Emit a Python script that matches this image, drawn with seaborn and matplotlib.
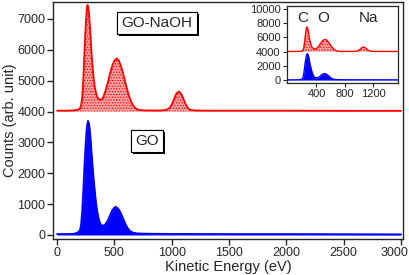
import numpy as np
import pandas as pd
import matplotlib
matplotlib.use("Agg")
import matplotlib.pyplot as plt
import matplotlib.patheffects as pe
import matplotlib.transforms as mtransforms
import seaborn as sns

# === DATA ===
energy_naoh = [0, 100, 150, 180, 200, 210, 220, 230, 240, 250, 260, 265, 270, 280, 290,
               300, 310, 320, 330, 340, 350, 360, 370, 380, 390, 400, 420, 440, 460,
               480, 500, 520, 540, 560, 580, 600, 620, 640, 660, 680, 700, 740, 800,
               900, 950, 980, 1000, 1020, 1040, 1060, 1080, 1100, 1120, 1140, 1160,
               1200, 1300, 1500, 2000, 2500, 3000]
counts_naoh = [30, 30, 40, 60, 100, 200, 450, 1100, 2000, 2800, 3350, 3450, 3420, 3150, 2600,
               1950, 1450, 1050, 780, 600, 480, 420, 390, 385, 395, 440, 640, 900, 1200,
               1470, 1650, 1720, 1650, 1450, 1180, 880, 600, 380, 220, 120, 70, 40, 35,
               35, 50, 110, 220, 400, 580, 650, 590, 430, 250, 120, 60,
               35, 30, 30, 30, 25, 25]

energy_go = [0, 100, 150, 180, 200, 210, 220, 230, 240, 250, 260, 270, 280, 290, 300,
             310, 320, 330, 340, 350, 360, 370, 380, 390, 400, 420, 440, 460, 480,
             500, 510, 520, 540, 560, 580, 600, 620, 640, 660, 700, 800, 1000, 1500,
             2000, 2500, 3000]
counts_go = [30, 30, 40, 80, 150, 350, 800, 1500, 2300, 3000, 3500, 3700, 3600, 3250, 2750,
             2250, 1800, 1400, 1050, 780, 580, 440, 350, 310, 300, 340, 450, 620, 790,
             890, 910, 900, 820, 680, 500, 330, 200, 120, 80, 50, 40, 35, 30,
             30, 25, 20]

naoh_offset = 4000

df_naoh = pd.DataFrame({"energy": energy_naoh, "counts": np.array(counts_naoh) + naoh_offset})
df_go = pd.DataFrame({"energy": energy_go, "counts": counts_go})

# === STYLE ===
sns.set_style("ticks")
plt.rcParams['font.family'] = ['Liberation Sans', 'DejaVu Sans']
plt.rcParams['hatch.linewidth'] = 0.6

fig = plt.figure(figsize=(4.09, 2.75), dpi=100)
ax = fig.add_axes([0.1296, 0.1309, 0.8557, 0.8618])


def draw(a, lw=1.3):
    a.fill_between(df_naoh["energy"], naoh_offset, df_naoh["counts"],
                   facecolor="#f8a4a4", edgecolor="red", hatch="......", linewidth=0)
    sns.lineplot(data=df_naoh, x="energy", y="counts", color="red", lw=lw, ax=a)
    a.fill_between(df_go["energy"], 0, df_go["counts"], color="blue", linewidth=0)
    sns.lineplot(data=df_go, x="energy", y="counts", color="blue", lw=lw, ax=a)


draw(ax)
ax.set_xlim(-35, 3017)
ax.set_ylim(-130, 7550)
ax.set_xticks(range(0, 3001, 500))
ax.set_yticks(range(0, 7001, 1000))
ax.tick_params(labelsize=9, length=4, width=1, direction="out", pad=1.5)
ax.set_xlabel("Kinetic Energy (eV)", fontsize=10.5, labelpad=1)
ax.set_ylabel("Counts (arb. unit)", fontsize=10.5)
ax.yaxis.set_label_coords(-0.104, 0.5)
for s in ax.spines.values():
    s.set_linewidth(1)

# keep the last x tick label inside the figure
fig.canvas.draw()
last = ax.get_xticklabels()[-1]
last.set_transform(last.get_transform() +
                   mtransforms.ScaledTranslation(-7 / 100, 0, fig.dpi_scale_trans))

# boxed labels with drop shadow
for txt, pos in [("GO-NaOH", (0.297, 0.911)), ("GO", (0.269, 0.414))]:
    t = ax.text(*pos, txt, transform=ax.transAxes, fontsize=11, ha="center", va="center",
                bbox=dict(boxstyle="square,pad=0.28", fc="white", ec="black", lw=0.8))
    t.get_bbox_patch().set_path_effects(
        [pe.withSimplePatchShadow(offset=(1.5, -1.5), shadow_rgbFace="black", alpha=1),
         pe.Normal()])

# === INSET ===
ins = fig.add_axes([0.7017, 0.698, 0.2714, 0.28])
draw(ins, lw=1.0)
ins.set_xlim(-14, 1545)
ins.set_ylim(-420, 10420)
ins.set_xticks([400, 800, 1200])
ins.set_yticks(range(0, 10001, 2000))
ins.tick_params(labelsize=8, length=3, width=0.8, direction="out", pad=1.5)
ins.set_xlabel("")
ins.set_ylabel("")
for s in ins.spines.values():
    s.set_linewidth(0.9)
for lab, xpos in [("C", 0.144), ("O", 0.324), ("Na", 0.73)]:
    ins.text(xpos, 0.84, lab, transform=ins.transAxes, fontsize=11, ha="center", va="center")

fig.savefig("out.png", dpi=100)
